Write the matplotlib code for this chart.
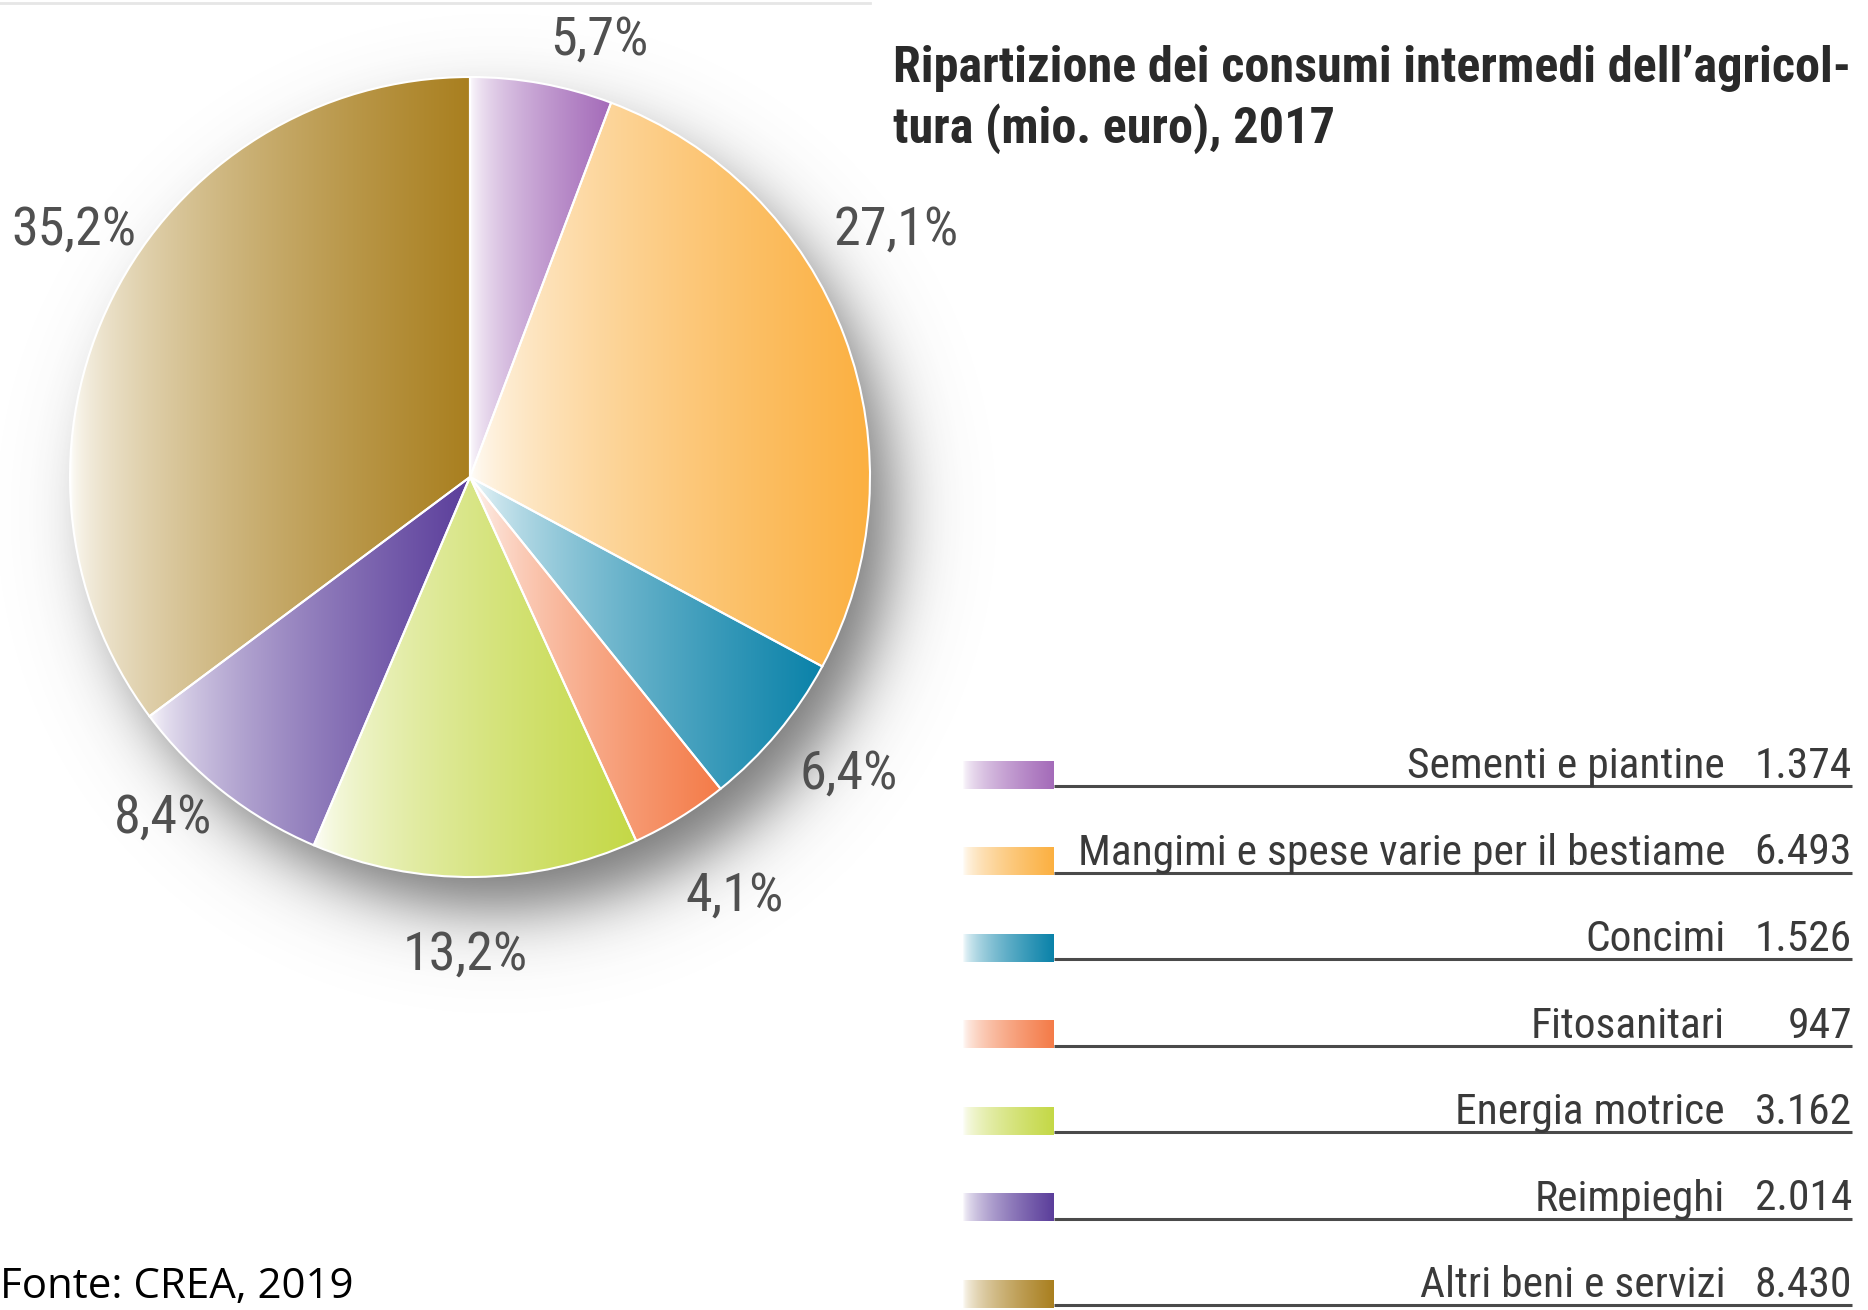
import numpy as np
import matplotlib
matplotlib.use("Agg")
import matplotlib.pyplot as plt
from matplotlib.colors import LinearSegmentedColormap, to_rgb
from matplotlib import font_manager

# ---------------- data ----------------
categories = ["Sementi e piantine", "Mangimi e spese varie per il bestiame", "Concimi",
              "Fitosanitari", "Energia motrice", "Reimpieghi", "Altri beni e servizi"]
values = [1374, 6493, 1526, 947, 3162, 2014, 8430]
value_labels = ["1.374", "6.493", "1.526", "947", "3.162", "2.014", "8.430"]
pct_labels = ["5,7%", "27,1%", "6,4%", "4,1%", "13,2%", "8,4%", "35,2%"]
title_lines = ["Ripartizione dei consumi intermedi dell\u2019agricol-", "tura (mio. euro), 2017"]
source = "Fonte: CREA, 2019"

colors = ["#a46bb9", "#fbb041", "#0a82a9", "#f47b48", "#c4d846", "#5b3e9b", "#a97f1f"]

# ---------------- layout (pixel coords, y from top) ----------------
W, H = 1868, 1310
CX, CY, R = 470, 477, 400
pct_pos = [(599, 40), (896, 230), (849, 774), (735, 896), (465, 955), (163, 818), (74, 230)]

names = {f.name for f in font_manager.fontManager.ttflist}
cond_faces = [f for f in font_manager.fontManager.ttflist
              if "Condensed" in f.fname or "Narrow" in f.fname]
narrow = ["DejaVu Sans"]
stretch = "condensed"
for cand in ["Liberation Sans Narrow", "Roboto Condensed", "Open Sans Condensed"]:
    if cand in names:
        narrow = [cand, "DejaVu Sans"]
        stretch = "normal"
        break

fig = plt.figure(figsize=(W / 100, H / 100), dpi=100)
ax = fig.add_axes([0, 0, 1, 1])
ax.set_xlim(0, W)
ax.set_ylim(0, H)
ax.axis("off")


def Y(y):
    return H - y


def grad_cmap(c):
    rgb = np.array(to_rgb(c))
    light = np.clip(0.97 * np.ones(3) + 0.03 * rgb + 0.02, 0, 1)
    ts = np.linspace(0, 1, 256)
    g = ts ** 0.6
    cols = [(1 - gi) * light + gi * rgb for gi in g]
    return LinearSegmentedColormap.from_list("g", cols)


grad = np.linspace(0, 1, 256).reshape(1, -1)

# ---------------- shadow ----------------
sx0, sx1, sy0, sy1 = 0, 1000, 0, 1060
xs = np.arange(sx0, sx1)
ys = np.arange(sy0, sy1)
XX, YY = np.meshgrid(xs, ys)
d = np.hypot(XX - (CX + 26), YY - (CY + 36))
alpha = 0.75 * 0.5 * (1 - np.tanh((d - R + 5) / 40.0))
shadow = np.zeros((len(ys), len(xs), 4))
shadow[..., :3] = 0.28
shadow[..., 3] = alpha
ax.imshow(shadow, extent=(sx0, sx1, Y(sy1), Y(sy0)), origin="upper", zorder=1,
          interpolation="bilinear")

# ---------------- pie ----------------
wedges, _ = ax.pie(values, startangle=90, counterclock=False, center=(CX, Y(CY)), radius=R,
                   colors=colors, wedgeprops=dict(edgecolor="white", linewidth=1.5))
for w, c in zip(wedges, colors):
    th = np.radians(np.linspace(w.theta1, w.theta2, 200))
    xsw = np.concatenate([[CX], CX + R * np.cos(th)])
    x0, x1 = xsw.min(), xsw.max()
    w.set_facecolor("none")
    im = ax.imshow(grad, cmap=grad_cmap(c), extent=(x0, x1, Y(CY) - R, Y(CY) + R),
                   aspect="auto", interpolation="bicubic", zorder=2)
    im.set_clip_path(w)
    w.set_zorder(3)

ax.set_xlim(0, W)
ax.set_ylim(0, H)
ax.set_aspect("auto")

fig.canvas.draw()
renderer = fig.canvas.get_renderer()


def fit(t, target_w):
    bb = t.get_window_extent(renderer)
    t.set_fontsize(t.get_fontsize() * target_w / bb.width)


# percent labels
ref_size = 34
for lab, (px, py) in zip(pct_labels, pct_pos):
    t = ax.text(px, Y(py), lab, ha="center", va="center", family=narrow, fontstretch=stretch,
                fontsize=34, color="#505050", zorder=5)
    if lab == "35,2%":
        fit(t, 125)
        ref_size = t.get_fontsize()
for t in ax.texts:
    t.set_fontsize(ref_size)

# title
t1 = ax.text(893, Y(69), title_lines[0], ha="left", va="center", family=narrow,
             fontstretch=stretch, fontweight="bold", fontsize=36, color="#2a2a2a")
fit(t1, 959)
t2 = ax.text(893, Y(129), title_lines[1], ha="left", va="center", family=narrow,
             fontstretch=stretch, fontweight="bold", fontsize=t1.get_fontsize(), color="#2a2a2a")

# legend
row0, step = 786, 86.5
lab_texts = []
for i, (cat, val, c) in enumerate(zip(categories, value_labels, colors)):
    ly = row0 + i * step
    ax.plot([1054, 1852], [Y(ly), Y(ly)], color="#4a4a4a", lw=2.2, solid_capstyle="butt", zorder=4)
    ax.imshow(grad, cmap=grad_cmap(c), extent=(963, 1054, Y(ly + 3), Y(ly - 25)),
              aspect="auto", interpolation="bicubic", zorder=4)
    tl = ax.text(1725, Y(ly - 8), cat, ha="right", va="baseline", family=narrow,
                 fontstretch=stretch, fontsize=30, color="#3a3a3a", zorder=5)
    tv = ax.text(1852, Y(ly - 8), val, ha="right", va="baseline", family=narrow,
                 fontstretch=stretch, fontsize=30, color="#3a3a3a", zorder=5)
    lab_texts += [tl, tv]
fit(lab_texts[2], 647)
for t in lab_texts:
    t.set_fontsize(lab_texts[2].get_fontsize())

# top faint line
ax.plot([0, 870], [Y(3), Y(3)], color="#e6e6e6", lw=2, zorder=0)

# source
ts = ax.text(0, Y(1287), source, ha="left", va="center", family=["Open Sans", "DejaVu Sans"],
             fontsize=26, color="black")
fit(ts, 354)

ax.set_xlim(0, W)
ax.set_ylim(0, H)
fig.savefig("out.png", dpi=100)
